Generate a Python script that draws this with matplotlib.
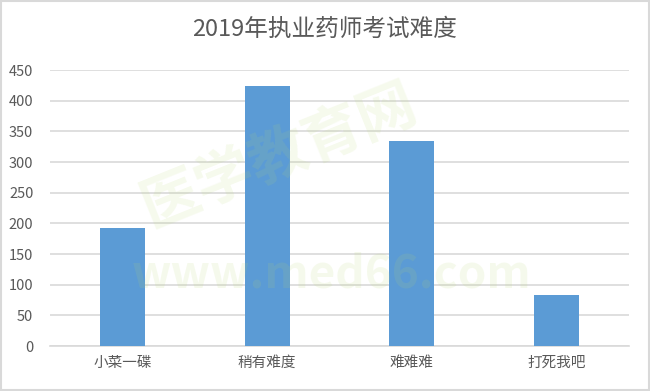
import matplotlib

matplotlib.use("Agg")
import matplotlib.pyplot as plt
from matplotlib.patches import Rectangle

plt.rcParams["font.family"] = ["Noto Sans CJK SC", "DejaVu Sans"]

categories = ["小菜一碟", "稍有难度", "难难难", "打死我吧"]
counts = [192, 424, 335, 83]
y_ticks = [0, 50, 100, 150, 200, 250, 300, 350, 400, 450]
title = "2019年执业药师考试难度"

BAR_COLOR = "#5b9bd5"
TEXT_COLOR = "#595959"
GRID_COLOR = "#d9d9d9"
WM_COLOR = "#b9d870"

fig = plt.figure(figsize=(6.5, 3.91), dpi=100)
ax = fig.add_axes([50 / 650, 45 / 391, 579 / 650, 276 / 391])

xs = range(len(categories))
ax.bar(xs, counts, width=0.31, color=BAR_COLOR, zorder=3)
ax.set_xlim(-0.5, len(categories) - 0.5)
ax.set_ylim(0, 450)
ax.set_yticks(y_ticks)
ax.set_xticks(list(xs))
ax.set_xticklabels(categories)
ax.yaxis.grid(True, color=GRID_COLOR, lw=1.2, zorder=0)
ax.set_axisbelow(True)
for s in ("top", "right", "left"):
    ax.spines[s].set_visible(False)
ax.spines["bottom"].set_color(GRID_COLOR)
ax.spines["bottom"].set_linewidth(1.2)
ax.tick_params(axis="both", length=0, colors=TEXT_COLOR, labelsize=10.5)
ax.tick_params(axis="x", pad=7)
ax.tick_params(axis="y", pad=12)

fig.text(0.5, 0.925, title, fontsize=17, color=TEXT_COLOR, ha="center", va="center")

# faint watermark laid over everything
fig.text(0.43, 0.60, "医学教育网", fontsize=42, fontweight="bold", color=WM_COLOR,
         alpha=0.13, rotation=22, ha="center", va="center", zorder=5)
fig.text(0.51, 0.297, "www.med66.com", fontsize=33, fontweight="bold", color=WM_COLOR,
         alpha=0.13, ha="center", va="center", zorder=5)

# chart-area border
fig.patches.append(Rectangle((0.002, 0.003), 0.996, 0.994, transform=fig.transFigure,
                             fill=False, edgecolor="#d9d9d9", lw=1.5))

fig.savefig("out.png", dpi=100)
